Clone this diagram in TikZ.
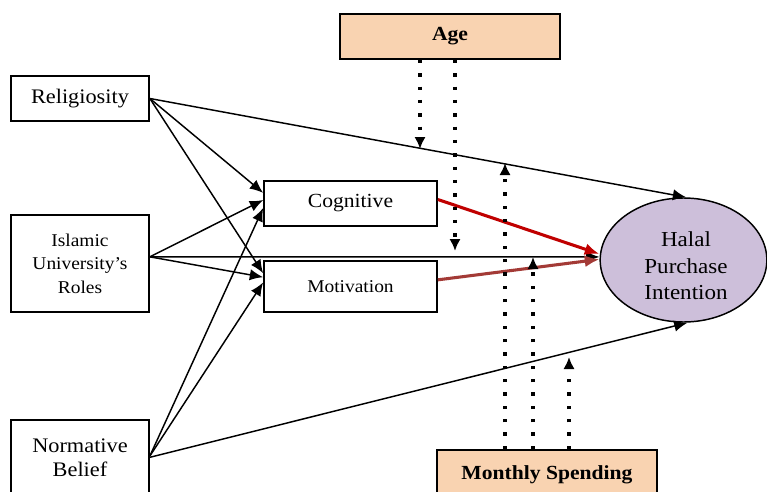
\documentclass[tikz,border=0pt]{standalone}
\usepackage{fontspec}
\setmainfont[FakeStretch=1.08]{Liberation Serif}
\usetikzlibrary{arrows.meta,shapes.geometric}
\definecolor{peach}{HTML}{F9D3B1}
\definecolor{lilac}{HTML}{CDBFDA}
\definecolor{redA}{HTML}{C00000}
\definecolor{redB}{HTML}{A33A36}

\begin{document}
\begin{tikzpicture}[x=0.75pt,y=-0.75pt,
    box/.style={draw,line width=1.3pt,inner sep=0pt,align=center},
    mod/.style={box,fill=peach,font=\bfseries\fontsize{15}{18}\selectfont},
    arr/.style={-{Latex[length=10pt,width=8.5pt]},line width=1.1pt},
    redarr/.style={-{Latex[length=11pt,width=9pt]},line width=2.3pt},
    dotarr/.style={-{Latex[length=9pt,width=8.5pt]},line width=2.5pt,dash pattern=on 2.5pt off 7.5pt}]
    \useasboundingbox (0,0) rectangle (767,492);
    % boxes
    \node[box,minimum width=103.5pt,minimum height=33.75pt,font=\fontsize{15.5}{18}\selectfont] (rel) at (80,98.5) {Religiosity};
    \node[box,minimum width=103.5pt,minimum height=72.75pt,font=\fontsize{13.5}{17.6}\selectfont] (iur) at (80,263.5) {Islamic\\University's\\Roles};
    \node[box,minimum width=103.5pt,minimum height=57pt,font=\fontsize{15.5}{18}\selectfont] (nb) at (80,458) {Normative\\Belief};
    \node[box,minimum width=129.75pt,minimum height=33.75pt,font=\fontsize{15}{17}\selectfont] (cog) at (350.5,203.5) {Cognitive};
    \node[box,minimum width=129.75pt,minimum height=38.25pt,font=\fontsize{13.5}{16}\selectfont] (mot) at (350.5,286.5) {Motivation};
    \node[ellipse,draw,fill=lilac,line width=1.1pt,minimum width=125pt,minimum height=93pt,inner sep=0pt] (hpi) at (683.5,260) {};
    \node[align=center,font=\fontsize{16}{20}\selectfont] (hpitext) at (686,266) {Halal\\Purchase\\Intention};
    \node[mod,minimum width=165pt,minimum height=33.75pt] (age) at (450,36.5) {Age};
    \node[mod,minimum width=165pt,minimum height=37.5pt] (ms) at (547,475) {Monthly Spending};
    % paths
    \draw[arr] (rel.east) -- ([yshift=8pt]cog.west);
    \draw[arr] (rel.east) -- ([yshift=10pt]mot.west);
    \draw[arr] (rel.east) -- ([xshift=2pt]hpi.north);
    \draw[arr] ([yshift=5pt]iur.east) -- ([yshift=2.6pt]cog.west);
    \draw[arr] ([yshift=5pt]iur.east) -- ([yshift=7pt]mot.west);
    \draw[arr] ([yshift=5pt]iur.east) -- ([yshift=2.3pt]hpi.west);
    \draw[arr] ([yshift=1.5pt]nb.east) -- ([yshift=-3.4pt]cog.west);
    \draw[arr] ([yshift=1.5pt]nb.east) -- ([yshift=3pt]mot.west);
    \draw[arr] ([yshift=0.5pt]nb.east) -- ([xshift=3pt]hpi.south);
    \draw[redarr,redA] ([yshift=3pt]cog.east) -- ([yshift=4.5pt]hpi.west);
    \draw[redarr,redB] ([yshift=5pt]mot.east) -- ([yshift=0.5pt]hpi.west);
    % moderators
    \coordinate (a1) at (420,149);
    \coordinate (a2) at (455,251);
    \coordinate (m1) at (505,163);
    \coordinate (m2) at (533,257);
    \coordinate (m3) at (569,357);
    \draw[dotarr] (age.south -| a1) -- (a1);
    \draw[dotarr] (age.south -| a2) -- (a2);
    \draw[dotarr] (ms.north -| m1) -- (m1);
    \draw[dotarr] (ms.north -| m2) -- (m2);
    \draw[dotarr] (ms.north -| m3) -- (m3);
\end{tikzpicture}
\end{document}
